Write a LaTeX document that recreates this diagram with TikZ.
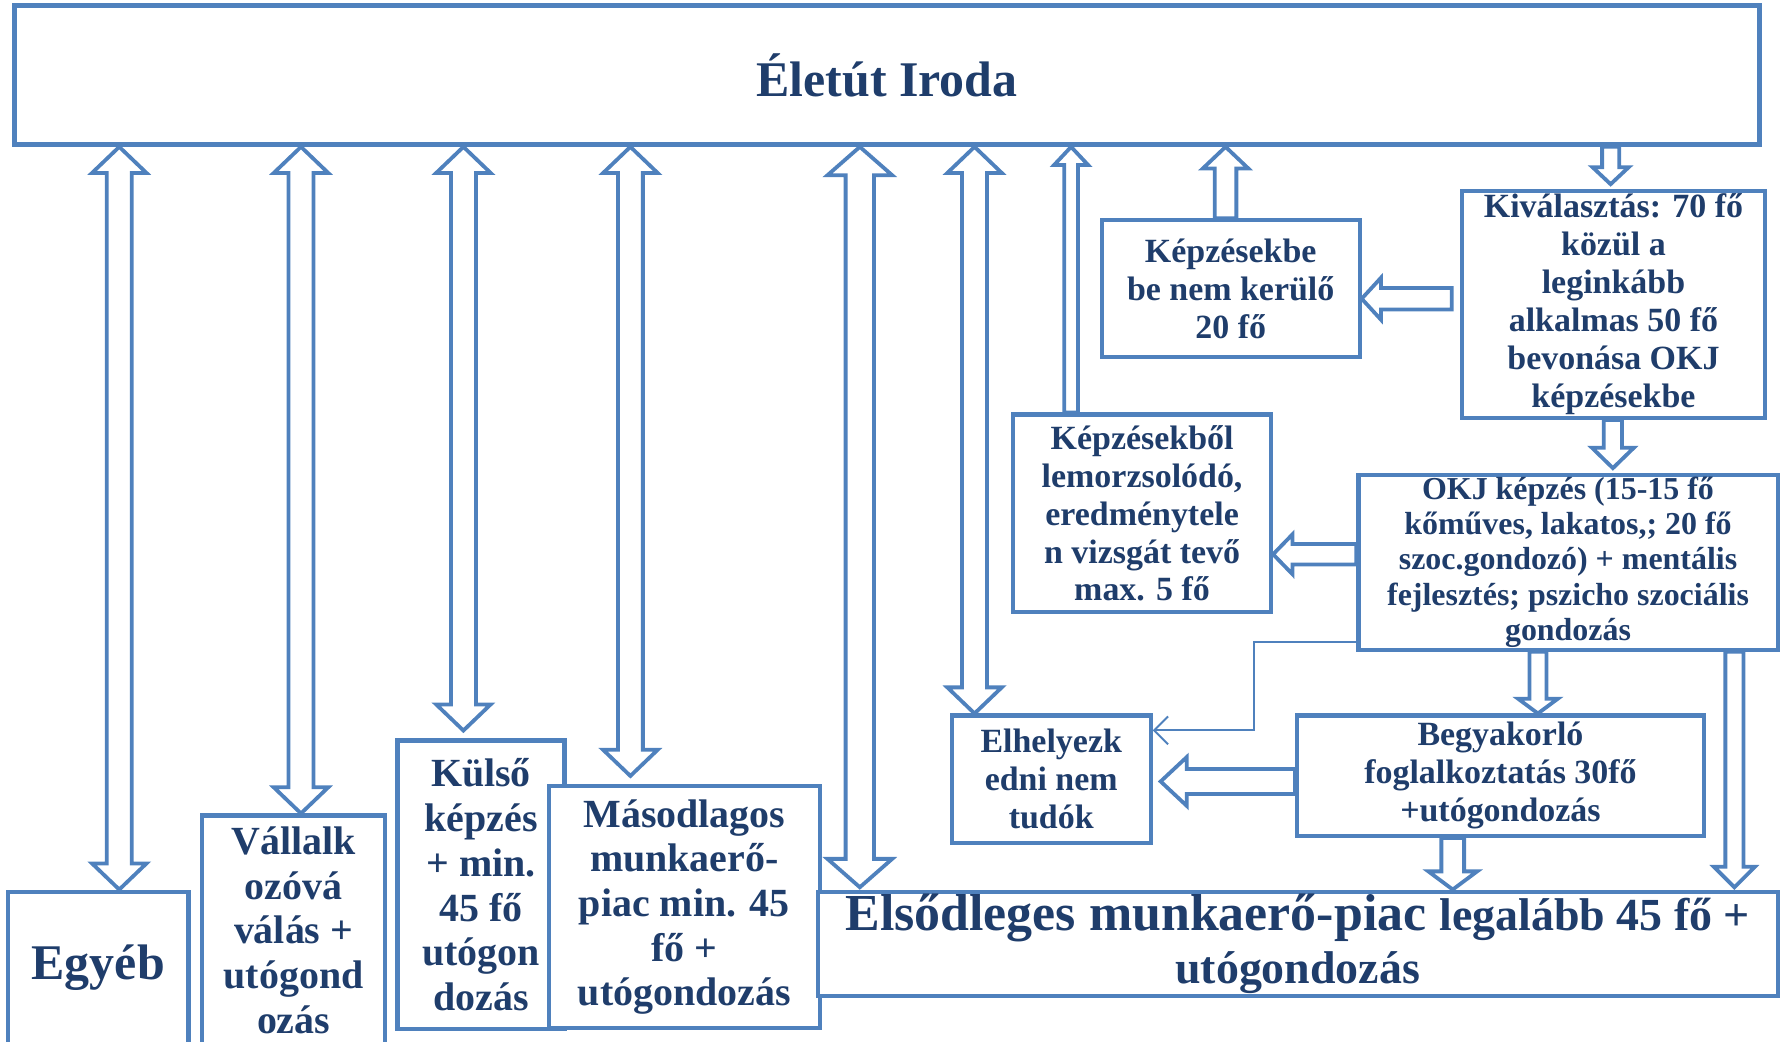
\documentclass[tikz,border=0pt]{standalone}
\usepackage{fontspec}
\setmainfont{Liberation Serif}
\usetikzlibrary{arrows.meta, calc}
\definecolor{iroblue}{HTML}{4F81BD}
\definecolor{irotext}{HTML}{1F3D6B}

% one corner of a block arrow, in the frame of the connector
\newcommand\ap[2]{([shift={(\p1)},rotate=\n1]#1,#2)}

\tikzset{
    arshaft/.code={\def\arsw{#1}},
    arhead/.code 2 args={\def\arhw{#1}\def\arhl{#2}},
    arshaft=2.2mm, arhead={4.8mm}{2.3mm}
}

\begin{document}
\begin{tikzpicture}[
    x=0.1mm, y=-0.1mm,
    box/.style={
        rectangle,
        draw=iroblue,
        line width=1.05pt,
        fill=white,
        inner sep=0pt,
        align=center,
        text=irotext,
        font=\bfseries\fontsize{8.5}{9.5}\selectfont
    },
    bigbox/.style={
        box,
        font=\bfseries\fontsize{10}{11.2}\selectfont
    },
    blk/.style={
        draw=iroblue,
        line width=0.95pt,
        fill=white,
        line join=miter
    },
    onehead/.style={
        blk,
        to path={let \p1=(\tikztostart), \p2=(\tikztotarget),
            \n1={atan2(\y2-\y1,\x2-\x1)}, \n2={veclen(\x2-\x1,\y2-\y1)} in
            \ap{0pt}{\arsw/2} -- \ap{\n2-\arhl}{\arsw/2} -- \ap{\n2-\arhl}{\arhw/2}
            -- \ap{\n2}{0pt} -- \ap{\n2-\arhl}{-\arhw/2} -- \ap{\n2-\arhl}{-\arsw/2}
            -- \ap{0pt}{-\arsw/2} -- cycle}
    },
    twohead/.style={
        blk,
        to path={let \p1=(\tikztostart), \p2=(\tikztotarget),
            \n1={atan2(\y2-\y1,\x2-\x1)}, \n2={veclen(\x2-\x1,\y2-\y1)} in
            \ap{0pt}{0pt} -- \ap{\arhl}{\arhw/2} -- \ap{\arhl}{\arsw/2}
            -- \ap{\n2-\arhl}{\arsw/2} -- \ap{\n2-\arhl}{\arhw/2} -- \ap{\n2}{0pt}
            -- \ap{\n2-\arhl}{-\arhw/2} -- \ap{\n2-\arhl}{-\arsw/2}
            -- \ap{\arhl}{-\arsw/2} -- \ap{\arhl}{-\arhw/2} -- cycle}
    },
    link/.style={
        draw=iroblue,
        line width=0.5pt,
        -{Straight Barb[length=3.5pt, width=7pt]}
    }
]
\useasboundingbox (0,0) rectangle (1568,917);

% Top box
\node[box, line width=1.3pt, minimum width=153.6mm, minimum height=12.2mm,
      font=\bfseries\fontsize{12.5}{14}\selectfont] (top) at (781,66) {Életút Iroda};

% Selection and training
\node[box, minimum width=26.7mm, minimum height=20mm] (kival) at (1420.5,268)
    {Kiválasztás: 70 fő\\közül a\\leginkább\\alkalmas 50 fő\\bevonása OKJ\\képzésekbe};
\node[box, minimum width=22.7mm, minimum height=12mm] (kimarad) at (1083.5,254)
    {Képzésekbe\\be nem kerülő\\20 fő};
\node[box, minimum width=36.9mm, minimum height=15.4mm,
      font=\bfseries\fontsize{8}{8.8}\selectfont] (okj) at (1380.5,495)
    {OKJ képzés (15-15 fő\\kőműves, lakatos,; 20 fő\\szoc.gondozó) + mentális\\fejlesztés; pszicho szociális\\gondozás};
\node[box, minimum width=22.7mm, minimum height=17.4mm] (lemorz) at (1005.5,452)
    {Képzésekből\\lemorzsolódó,\\eredménytele\\n vizsgát tevő\\max. 5 fő};
\node[box, minimum width=35.8mm, minimum height=10.6mm] (begyak) at (1321,683)
    {Begyakorló\\foglalkoztatás 30fő\\+utógondozás};
\node[box, minimum width=17.5mm, minimum height=11.2mm] (elhely) at (925.5,686)
    {Elhelyezk\\edni nem\\tudók};

% Bottom row
\node[box, minimum width=15.9mm, minimum height=13.4mm,
      font=\bfseries\fontsize{12.5}{14}\selectfont] (egyeb) at (86.5,852) {Egyéb};
\node[bigbox, minimum width=16.1mm, minimum height=20.2mm] (vallal) at (258.5,819)
    {Vállalk\\ozóvá\\válás +\\utógond\\ozás};
\node[bigbox, minimum width=14.7mm, minimum height=25.4mm] (kulso) at (423.5,779)
    {Külső\\képzés\\+ min.\\45 fő\\utógon\\dozás};
\node[bigbox, minimum width=23.9mm, minimum height=21.3mm] (masod) at (602.5,798.5)
    {Másodlagos\\munkaerő-\\piac min. 45\\fő +\\utógondozás};
\node[box, minimum width=84.5mm, minimum height=9.2mm,
      font=\bfseries\fontsize{13}{13.4}\selectfont] (elsodl) at (1142.5,831)
    {Elsődleges munkaerő-piac {\fontsize{11.5}{13.4}\selectfont legalább 45 fő +}\\
     {\fontsize{11.5}{13.4}\selectfont utógondozás}};

% Arrows to and from Életút Iroda
\draw[twohead] (top.south -| 105,0) to (egyeb.north -| 105,0);
\draw[twohead] (top.south -| 265,0) to (vallal.north -| 265,0);
\draw[twohead] (top.south -| 408,0) to ($(kulso.north -| 408,0)+(0,-7)$);
\draw[twohead] (top.south -| 555,0) to ($(masod.north -| 555,0)+(0,-7)$);
\draw[twohead, arshaft=2.5mm, arhead={5.7mm}{2.5mm}]
    (top.south -| 757,0) to ($(elsodl.north -| 757,0)+(0,-2)$);
\draw[twohead] (top.south -| 858,0) to (elhely.north -| 858,0);
\draw[onehead, arshaft=1.2mm, arhead={3mm}{1.6mm}] (lemorz.north -| 943,0) to (top.south -| 943,0);
\draw[onehead, arshaft=1.9mm, arhead={4mm}{1.9mm}] (kimarad.north -| 1079,0) to (top.south -| 1079,0);
\draw[onehead, arshaft=1.5mm, arhead={3.2mm}{1.5mm}]
    (top.south -| 1418,0) to ($(kival.north -| 1418,0)+(0,-4)$);

% Arrows between the boxes
\draw[onehead, arshaft=1.9mm, arhead={3.7mm}{1.7mm}]
    ($(kival.west |- 0,263)+(-7,0)$) to (kimarad.east |- 0,263);
\draw[onehead, arshaft=1.6mm, arhead={3.7mm}{1.8mm}]
    (kival.south -| 1420,0) to ($(okj.north -| 1420,0)+(0,-4)$);
\draw[onehead, arshaft=1.8mm, arhead={3.5mm}{1.7mm}] (okj.west |- 0,488) to (lemorz.east |- 0,488);
\draw[onehead, arshaft=1.5mm, arhead={3.5mm}{1.3mm}] (okj.south -| 1354,0) to (begyak.north -| 1354,0);
\draw[onehead, arshaft=1.6mm, arhead={3.6mm}{1.8mm}]
    (okj.south -| 1527,0) to ($(elsodl.north -| 1527,0)+(0,-2)$);
\draw[onehead, arshaft=2.2mm, arhead={4.3mm}{2.3mm}]
    (begyak.west |- 0,688) to ($(elhely.east |- 0,688)+(7,0)$);
\draw[onehead, arshaft=2mm, arhead={4.3mm}{1.6mm}] (begyak.south -| 1279,0) to (elsodl.north -| 1279,0);

% Thin link from OKJ to Elhelyezkedni
\coordinate (knee) at (1104,643);
\draw[link] ($(okj.south west)+(0,-9)$) -| (knee) -- (knee -| elhely.east);

\end{tikzpicture}
\end{document}
